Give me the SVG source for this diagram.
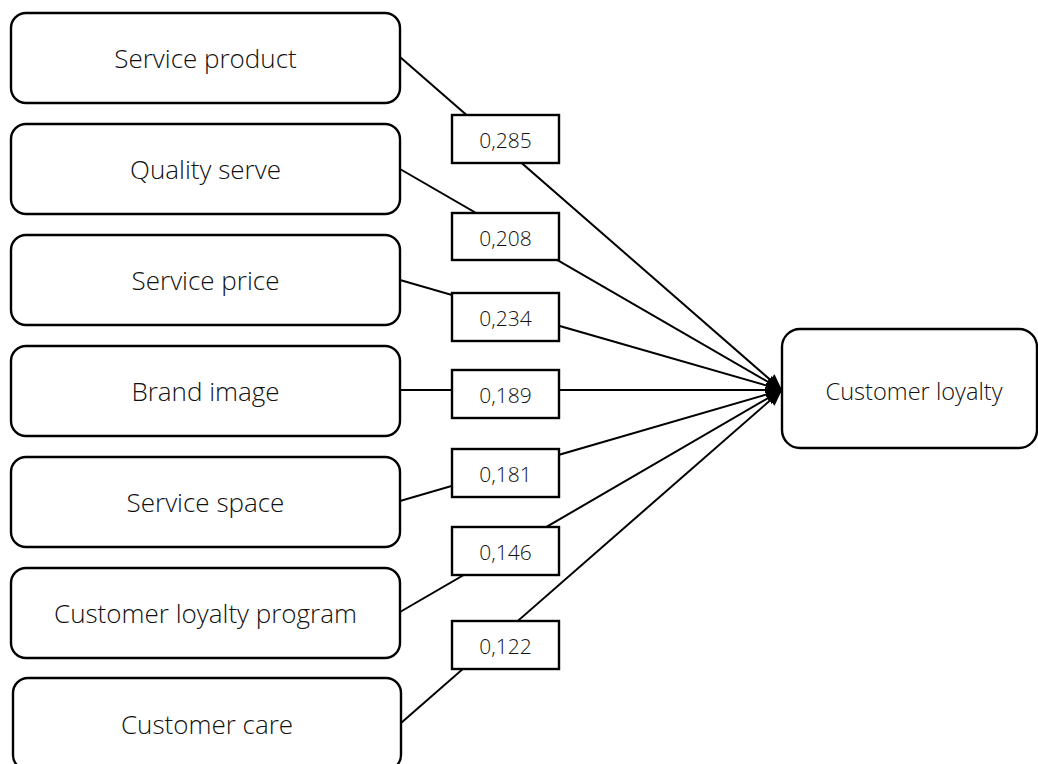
<svg xmlns="http://www.w3.org/2000/svg" width="1038" height="764" viewBox="0 0 1038 764">
  <style>
    .node rect { fill: #ffffff; stroke: #000000; stroke-width: 2.4; }
    .lbl rect { fill: #ffffff; stroke: #000000; stroke-width: 2.4; }
    .node text { font-family: "Open Sans", "Liberation Sans", sans-serif; font-weight: 300; font-size: 26px; fill: #111111; text-anchor: middle; }
    .lbl text { font-family: "Open Sans", "Liberation Sans", sans-serif; font-weight: 300; font-size: 21px; fill: #111111; text-anchor: middle; }
    #customer-loyalty text { font-size: 23.6px; }
    .edges line { stroke: #000000; stroke-width: 2; marker-end: url(#arrow); }
  </style>
  <defs>
    <marker id="arrow" markerUnits="userSpaceOnUse" markerWidth="17" markerHeight="14" refX="16" refY="7" orient="auto">
      <path d="M0,0 L16,7 L0,14 z" fill="#000000"/>
    </marker>
  </defs>
  <rect width="1038" height="764" fill="#ffffff"/>

  <!-- connectors: each factor to customer loyalty -->
  <g id="connectors" class="edges">
    <line x1="400" y1="57" x2="782" y2="390"/>
    <line x1="400" y1="169" x2="782" y2="390"/>
    <line x1="400" y1="280" x2="782" y2="390"/>
    <line x1="400" y1="390" x2="782" y2="390"/>
    <line x1="400" y1="501" x2="782" y2="390"/>
    <line x1="400" y1="612" x2="782" y2="390"/>
    <line x1="401" y1="723" x2="782" y2="390"/>
  </g>

  <!-- path coefficients -->
  <g id="coef-285" class="lbl"><rect x="452" y="115" width="107" height="48"/><text x="505.5" y="148">0,285</text></g>
  <g id="coef-208" class="lbl"><rect x="452" y="213" width="107" height="47"/><text x="505.5" y="246">0,208</text></g>
  <g id="coef-234" class="lbl"><rect x="452" y="293" width="107" height="48"/><text x="505.5" y="326">0,234</text></g>
  <g id="coef-189" class="lbl"><rect x="452" y="370" width="107" height="48"/><text x="505.5" y="403">0,189</text></g>
  <g id="coef-181" class="lbl"><rect x="452" y="449" width="107" height="48"/><text x="505.5" y="482">0,181</text></g>
  <g id="coef-146" class="lbl"><rect x="452" y="527" width="107" height="48"/><text x="505.5" y="560">0,146</text></g>
  <g id="coef-122" class="lbl"><rect x="452" y="621" width="107" height="48"/><text x="505.5" y="654">0,122</text></g>

  <!-- factor nodes -->
  <g id="service-product" class="node"><rect x="11" y="13" width="389" height="90" rx="15"/><text x="205.5" y="68">Service product</text></g>
  <g id="quality-serve" class="node"><rect x="11" y="124" width="389" height="90" rx="15"/><text x="205.5" y="179">Quality serve</text></g>
  <g id="service-price" class="node"><rect x="11" y="235" width="389" height="90" rx="15"/><text x="205.5" y="290">Service price</text></g>
  <g id="brand-image" class="node"><rect x="11" y="346" width="389" height="90" rx="15"/><text x="205.5" y="401">Brand image</text></g>
  <g id="service-space" class="node"><rect x="11" y="457" width="389" height="90" rx="15"/><text x="205.5" y="512">Service space</text></g>
  <g id="loyalty-program" class="node"><rect x="11" y="568" width="389" height="90" rx="15"/><text x="205.5" y="623">Customer loyalty program</text></g>
  <g id="customer-care" class="node"><rect x="13" y="678" width="388" height="92" rx="15"/><text x="207" y="734">Customer care</text></g>

  <!-- outcome node -->
  <g id="customer-loyalty" class="node"><rect x="782" y="329" width="255" height="119" rx="18"/><text x="914" y="400">Customer loyalty</text></g>
</svg>
